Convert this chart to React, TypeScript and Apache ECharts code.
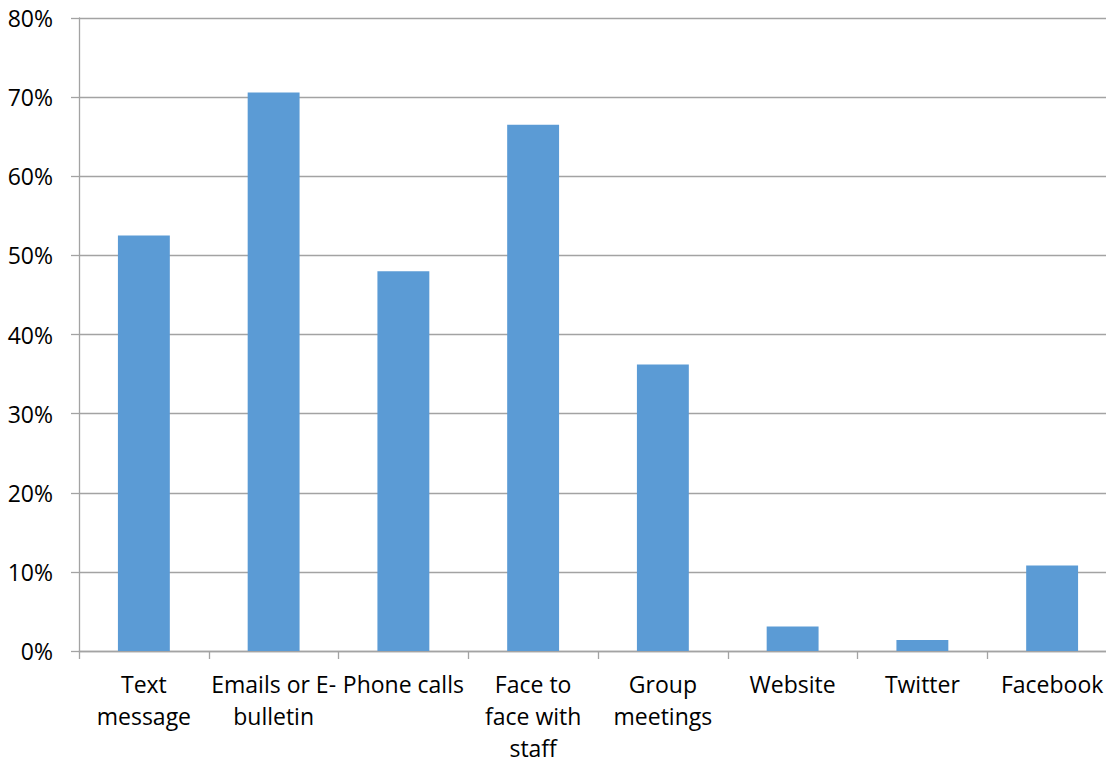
import React, { useEffect, useRef } from "react";
import * as echarts from "echarts";

// Share of respondents by communication channel
const categories = [
  "Text message",
  "Emails or E-bulletin",
  "Phone calls",
  "Face to face with staff",
  "Group meetings",
  "Website",
  "Twitter",
  "Facebook",
];

// Wrapped axis labels, one entry per category
const categoryLabels = [
  "Text\nmessage",
  "Emails or E-\nbulletin",
  "Phone calls",
  "Face to\nface with\nstaff",
  "Group\nmeetings",
  "Website",
  "Twitter",
  "Facebook",
];

const shares = [0.525, 0.706, 0.48, 0.665, 0.362, 0.031, 0.014, 0.108];

const yTicks = { min: 0, max: 0.8, interval: 0.1 };

const FONT = "'Open Sans', 'Noto Sans', sans-serif";
const GRID_GRAY = "#a3a3a3";

export default function App() {
  const ref = useRef<HTMLDivElement>(null);

  useEffect(() => {
    if (!ref.current) return;
    const chart = echarts.init(ref.current, undefined, { renderer: "svg" });
    chart.setOption({
      animation: false,
      backgroundColor: "#ffffff",
      grid: { left: 79, right: 3, top: 18, bottom: 111, containLabel: false },
      xAxis: {
        type: "category",
        data: categories,
        axisLine: { show: true, lineStyle: { color: GRID_GRAY, width: 1.3 } },
        axisTick: {
          show: true,
          length: 8,
          alignWithLabel: false,
          lineStyle: { color: GRID_GRAY, width: 1.3 },
        },
        axisLabel: {
          interval: 0,
          margin: 17,
          fontFamily: FONT,
          fontSize: 23,
          lineHeight: 32,
          color: "#000000",
          formatter: (_v: string, i: number) => categoryLabels[i],
        },
      },
      yAxis: {
        type: "value",
        min: yTicks.min,
        max: yTicks.max,
        interval: yTicks.interval,
        axisLine: { show: true, lineStyle: { color: GRID_GRAY, width: 1.3 } },
        axisTick: { show: true, length: 8, lineStyle: { color: GRID_GRAY, width: 1.3 } },
        splitLine: { show: true, lineStyle: { color: GRID_GRAY, width: 1.3 } },
        axisLabel: {
          margin: 26,
          fontFamily: FONT,
          fontSize: 23,
          color: "#000000",
          formatter: (v: number) => `${Math.round(v * 100)}%`,
        },
      },
      series: [
        {
          type: "bar",
          data: shares,
          barCategoryGap: "60%",
          itemStyle: { color: "#5b9bd5" },
        },
      ],
    });
    return () => chart.dispose();
  }, []);

  return (
    <div
      style={{
        position: "fixed",
        left: 0,
        top: 0,
        width: 1106,
        height: 764,
        overflow: "hidden",
        background: "#ffffff",
      }}
    >
      <div ref={ref} style={{ width: 1120, height: 764 }} />
    </div>
  );
}
